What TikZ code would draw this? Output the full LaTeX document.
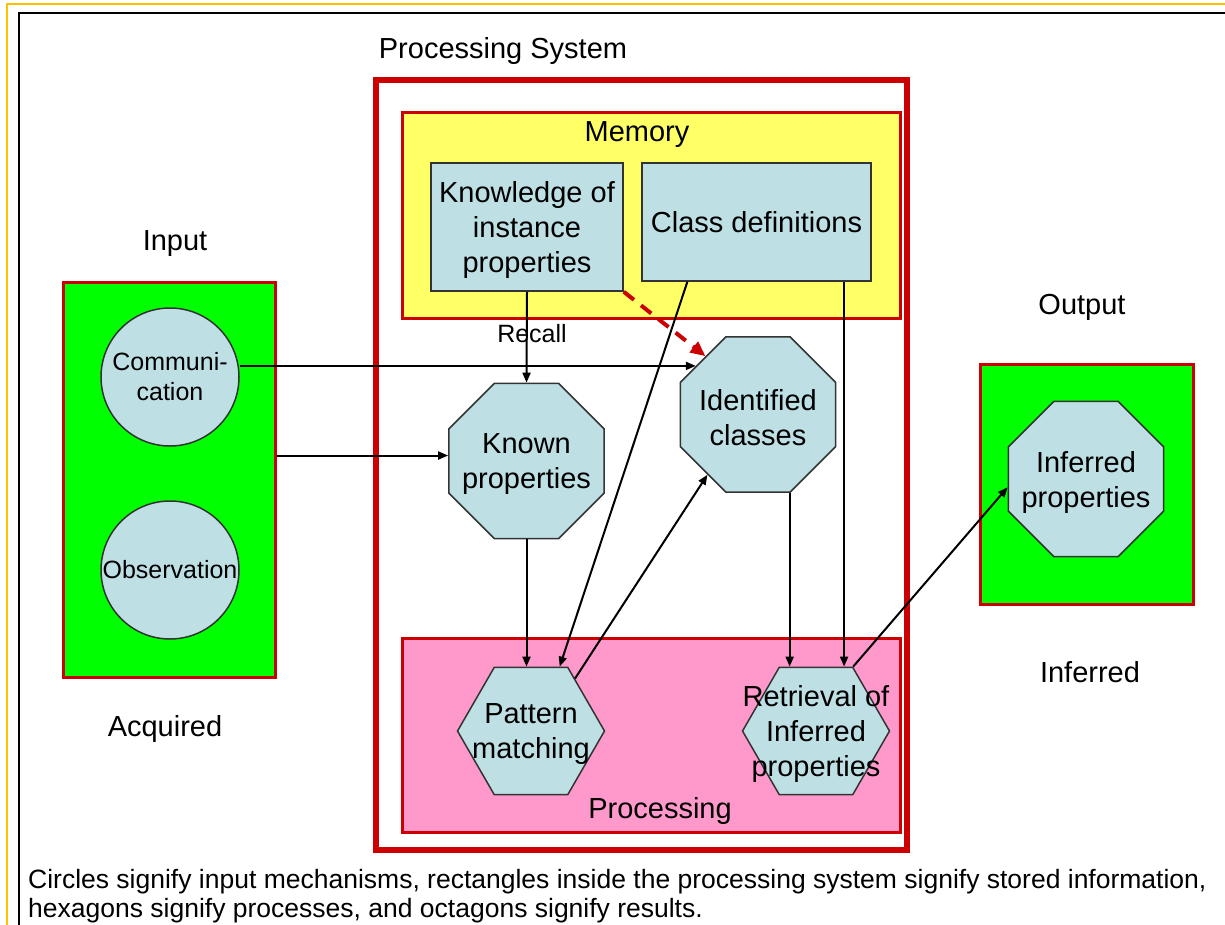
\documentclass[tikz,border=0pt]{standalone}
\usepackage{fontspec}
\setmainfont{Liberation Sans}
\usetikzlibrary{arrows.meta,positioning,shapes.geometric,calc}

\definecolor{boxred}{RGB}{204,0,0}
\definecolor{lightcyan}{RGB}{190,224,228}
\definecolor{brightgreen}{RGB}{0,255,0}
\definecolor{memyellow}{RGB}{255,255,102}
\definecolor{procpink}{RGB}{255,153,204}
\definecolor{frameorange}{RGB}{255,192,0}

\begin{document}
\begin{tikzpicture}[
      x=1pt,y=-1pt,
      bigtext/.style={font=\fontsize{29}{35}\selectfont},
      smalltext/.style={font=\fontsize{25}{30}\selectfont},
      shapetext/.style={bigtext,align=center,inner sep=0pt,yshift=-3pt},
      areabox/.style={draw=boxred,line width=3pt,inner sep=0pt},
      storebox/.style={draw=black!80,line width=1.5pt,fill=lightcyan,bigtext,
                       align=center,inner sep=0pt},
      resultoct/.style={regular polygon,regular polygon sides=8,minimum size=168pt,
                        draw=black!80,line width=1.5pt,fill=lightcyan,inner sep=0pt},
      processhex/.style={regular polygon,regular polygon sides=6,minimum size=147pt,
                         draw=black!80,line width=1.5pt,fill=lightcyan,inner sep=0pt},
      sourcecirc/.style={circle,minimum size=138pt,draw=black!80,line width=1.5pt,
                         fill=lightcyan,smalltext,align=center,inner sep=0pt},
      arr/.style={-{Triangle[length=10pt,width=8pt]},line width=2pt},
      darr/.style={-{Triangle[length=15pt,width=13pt]},line width=4pt,boxred,
                   dash pattern=on 13pt off 9pt},
    ]
    \clip (0,0) rectangle (1225,924);

    % frames
    \draw[frameorange,line width=2.5pt] (7,4) rectangle (1260,960);
    \draw[black,line width=2pt] (19,13) rectangle (1260,960);

    % containers
    \node[areabox,line width=6pt,minimum width=531pt,minimum height=770pt] (psys) at (641.5,465) {};
    \node[areabox,fill=memyellow,minimum width=498pt,minimum height=206pt] (mem) at (651,215) {};
    \node[areabox,fill=procpink,minimum width=498pt,minimum height=194pt] (proc) at (651,735) {};
    \node[areabox,fill=brightgreen,minimum width=212pt,minimum height=395pt] (inp) at (169,479.5) {};
    \node[areabox,fill=brightgreen,minimum width=213pt,minimum height=240pt] (outp) at (1086.5,484) {};

    % titles
    \node[bigtext] (pstitle) at (503,51) {Processing System};
    \node[bigtext] (memtitle) at (637,135) {Memory};
    \node[bigtext] (proctitle) at (660,811) {Processing};
    \node[bigtext] (intitle) at (175,244) {Input};
    \node[bigtext] (acqtitle) at (165,729) {Acquired};
    \node[bigtext] (outtitle) at (1082,307) {Output};
    \node[bigtext] (inftitle) at (1090,672) {Inferred};

    % stored information
    \node[storebox,minimum width=192pt,minimum height=128pt] (know) at (527,227) {};
    \node[shapetext] (knowtext) at (know) {Knowledge of\\instance\\properties};
    \node[storebox,minimum width=229pt,minimum height=118pt] (cdef) at (756.5,222) {Class definitions};

    % results
    \node[resultoct] (kp) at (526.5,461) {};
    \node[shapetext] (kptext) at (kp) {Known\\properties};
    \node[resultoct] (idc) at (758,414.5) {};
    \node[shapetext] (idctext) at (idc) {Identified\\classes};
    \node[resultoct] (infp) at (1086,479) {};
    \node[shapetext] (infptext) at (infp) {Inferred\\properties};

    % processes
    \node[processhex] (pm) at (531,731) {};
    \node[shapetext] (pmtext) at (pm) {Pattern\\matching};
    \node[processhex] (ret) at (816,731) {};
    \node[shapetext] (rettext) at (ret) {Retrieval of\\Inferred\\properties};

    % input mechanisms
    \node[sourcecirc] (comm) at (170,377) {Communi-\\cation};
    \node[sourcecirc] (obs) at (170,570) {Observation};

    \node[smalltext] (recall) at (532,334) {Recall};

    % connectors
    \coordinate (cd1) at ($(cdef.south west)!0.2!(cdef.south east)$);
    \coordinate (cd2) at ($(cdef.south west)!0.88!(cdef.south east)$);
    \draw[arr] (comm.east |- idc.142) -- (idc.142);
    \draw[arr] (inp.east |- kp.176) -- (kp.176);
    \draw[arr] (know.south) -- (kp.north);
    \draw[darr] (know.south east) -- (idc.132);
    \draw[arr] (cd1) -- (pm.66);
    \draw[arr] (cd2) -- (cd2 |- ret.north);
    \draw[arr] (kp.south) -- (kp.south |- pm.north);
    \draw[arr] (pm.50) -- (idc.230);
    \draw[arr] (idc.-68) -- (idc.-68 |- ret.north);
    \draw[arr] (ret.60) -- (infp.186);

    % caption
    \node[anchor=west,align=left,inner sep=0pt,
          font=\fontsize{26.5}{29}\selectfont] (caption) at (28,896)
          {Circles signify input mechanisms, rectangles inside the processing system signify stored information,\\hexagons signify processes, and octagons signify results.};
  \end{tikzpicture}
\end{document}
